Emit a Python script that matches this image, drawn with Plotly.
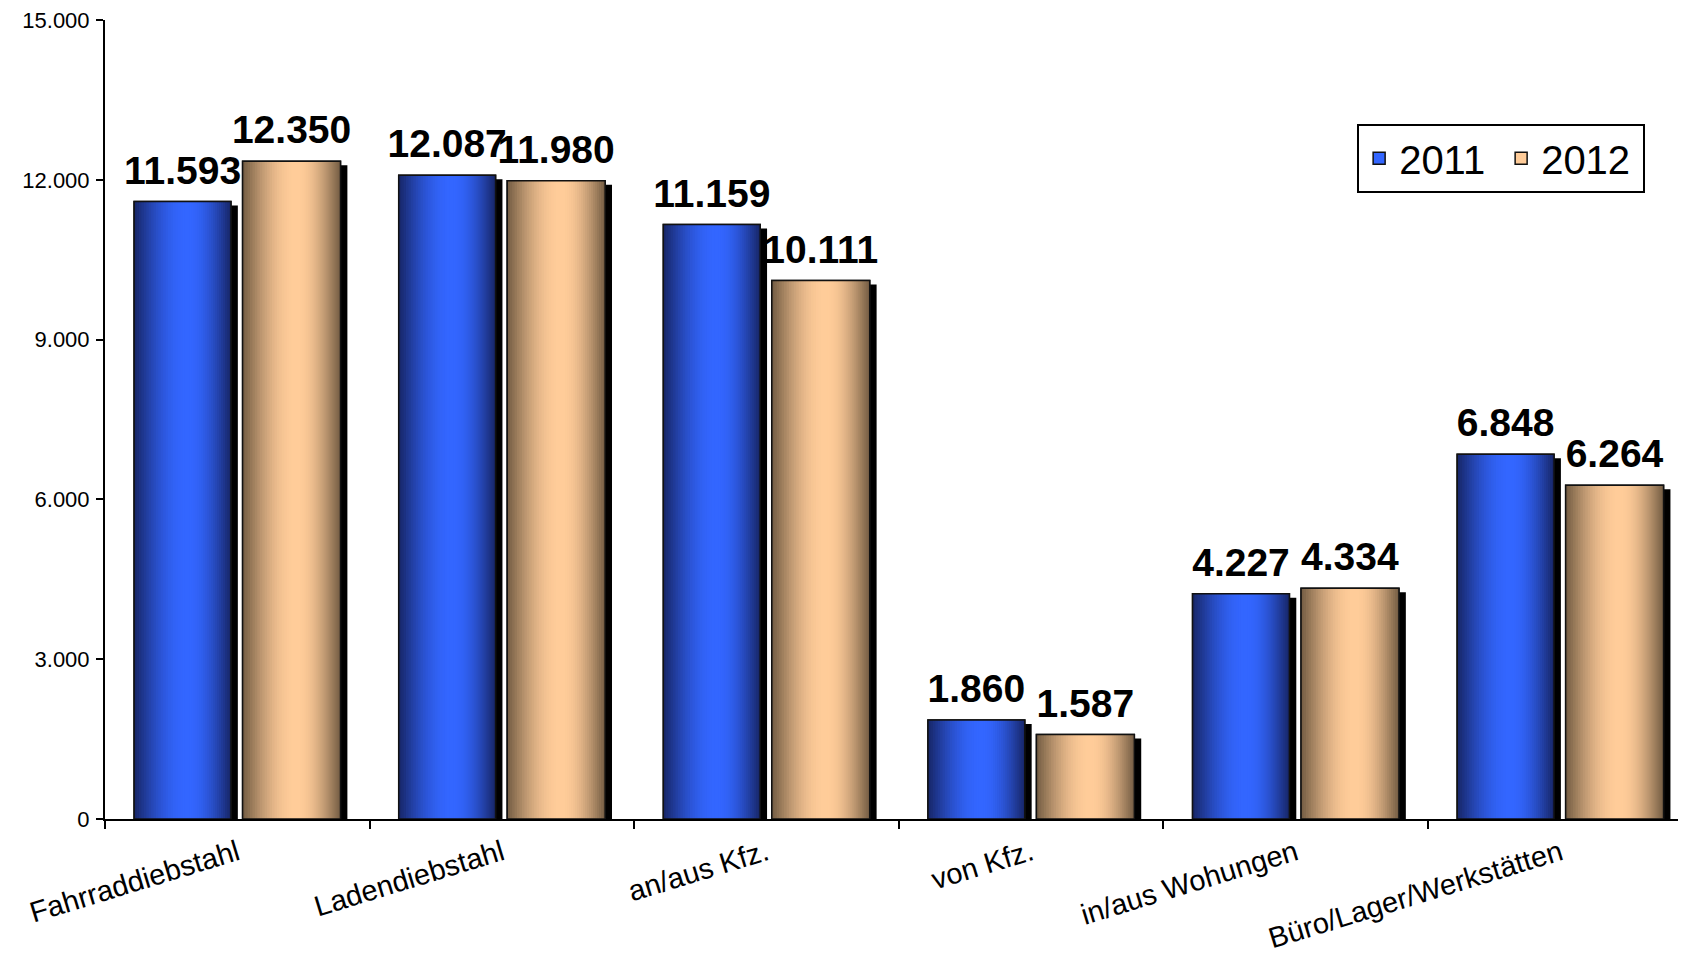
import math
import plotly.graph_objects as go

# ---------------- data ----------------
categories = ["Fahrraddiebstahl", "Ladendiebstahl", "an/aus Kfz.", "von Kfz.",
              "in/aus Wohungen", "Büro/Lager/Werkstätten"]
values_2011 = [11593, 12087, 11159, 1860, 4227, 6848]
values_2012 = [12350, 11980, 10111, 1587, 4334, 6264]
series_names = ["2011", "2012"]
y_tick_values = [0, 3000, 6000, 9000, 12000, 15000]

# ---------------- style ----------------
FONT = "Liberation Sans, Arial, sans-serif"
styles = [
    dict(offset=-0.39, width=0.366, dark=(24, 40, 108), bright=(51, 102, 255)),
    dict(offset=0.02, width=0.37, dark=(120, 96, 70), bright=(255, 204, 153)),
]
series_values = [values_2011, values_2012]
N_LAYERS = 22
PEAK = 0.55           # position of brightest stripe across a bar
SHADOW_DX = 0.026     # shadow shift (category units)
SHADOW_DY = 75        # shadow drop (value units)
LABEL_LIFT = 130      # extra gap between bar top and value label (value units)


def mix(c1, c2, t):
    return "rgb(%d,%d,%d)" % tuple(round(a + (b - a) * t) for a, b in zip(c1, c2))


fig = go.Figure()

# drop shadows
for st, vals in zip(styles, series_values):
    fig.add_trace(go.Bar(
        x=categories, y=vals, base=-SHADOW_DY,
        offset=st["offset"] + SHADOW_DX, width=st["width"],
        marker=dict(color="black", line=dict(width=0)),
        showlegend=False, hoverinfo="skip"))

# legend / base layers
for name, st, vals in zip(series_names, styles, series_values):
    fig.add_trace(go.Bar(
        x=categories, y=vals, name=name,
        offset=st["offset"], width=st["width"],
        marker=dict(color=mix(st["bright"], st["bright"], 0),
                    line=dict(color="#111111", width=1.5)),
        showlegend=True, hoverinfo="skip"))

# gradient layers (cylinder shading)
for st, vals in zip(styles, series_values):
    w = st["width"]
    for k in range(N_LAYERS):
        left = st["offset"] + w * PEAK * k / N_LAYERS
        right = st["offset"] + w - w * (1 - PEAK) * k / N_LAYERS
        t = math.sin(math.pi / 2 * k / (N_LAYERS - 1))
        fig.add_trace(go.Bar(
            x=categories, y=vals, offset=left, width=right - left,
            marker=dict(color=mix(st["dark"], st["bright"], t), line=dict(width=0)),
            showlegend=False, hoverinfo="skip"))

# outlines
for name, st, vals in zip(series_names, styles, series_values):
    fig.add_trace(go.Bar(
        x=categories, y=vals, name=name,
        offset=st["offset"], width=st["width"],
        marker=dict(color="rgba(0,0,0,0)", line=dict(color="#111111", width=1.5)),
        showlegend=False))

# value labels
for name, st, vals in zip(series_names, styles, series_values):
    fig.add_trace(go.Bar(
        x=categories, y=vals, base=LABEL_LIFT, name=name,
        offset=st["offset"], width=st["width"],
        marker=dict(color="rgba(0,0,0,0)", line=dict(width=0)),
        text=[f"{v:,}".replace(",", ".") for v in vals],
        texttemplate="%{text}", textposition="outside", constraintext="none",
        textfont=dict(family=FONT, size=39, color="black", weight="bold"),
        cliponaxis=False, showlegend=False, hoverinfo="skip"))

fig.update_layout(
    width=1686, height=958,
    barmode="overlay",
    separators=",.",
    paper_bgcolor="white", plot_bgcolor="white",
    margin=dict(l=97, r=0, t=12, b=147, autoexpand=False),
    font=dict(family=FONT, color="black"),
    legend=dict(
        orientation="h", x=0.788, y=0.87, xanchor="left", yanchor="top",
        bgcolor="white", bordercolor="black", borderwidth=2,
        font=dict(family=FONT, size=40, color="black"),
        entrywidth=97, entrywidthmode="pixels",
    ),
    xaxis=dict(
        range=[-0.5, 5.505], showgrid=False, zeroline=False, automargin=False,
        showline=True, linecolor="black", linewidth=2,
        ticks="outside", tickson="boundaries", ticklen=8, tickwidth=1.5,
        tickcolor="black", tickangle=-17,
        tickfont=dict(family=FONT, size=29, color="black"),
        ticklabelstandoff=4, ticklabeloverflow="allow",
    ),
    yaxis=dict(
        range=[0, 15000], tickvals=y_tick_values, tickformat=",.0f",
        showgrid=False, zeroline=False, automargin=False,
        showline=True, linecolor="black", linewidth=2,
        ticks="outside", ticklen=7, tickwidth=1.5, tickcolor="black",
        tickfont=dict(family=FONT, size=22, color="black"),
        ticklabelstandoff=2, ticklabeloverflow="allow",
    ),
)

fig.write_html("out.html")
